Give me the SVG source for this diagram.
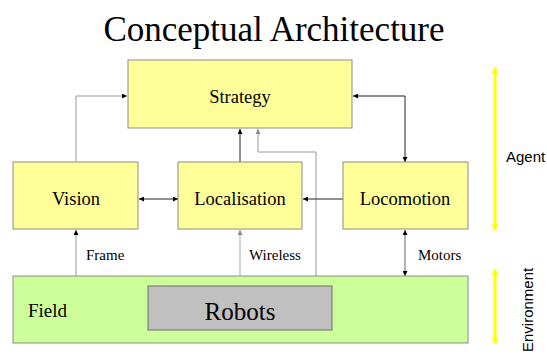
<svg xmlns="http://www.w3.org/2000/svg" width="547" height="354" viewBox="0 0 547 354">
  <style>
    .box { fill: #ffff99; stroke: #8c8c8c; stroke-width: 1; }
    .field { fill: #ccff99; stroke: #8c8c8c; stroke-width: 1; }
    .robots { fill: #c0c0c0; stroke: #6e6e6e; stroke-width: 1; }
    .serif { font-family: "Liberation Serif", "Times New Roman", serif; fill: #000; }
    .sans { font-family: "Liberation Sans", Arial, sans-serif; fill: #000; }
    .lbl { font-size: 18.5px; text-anchor: middle; }
    .small { font-size: 15px; }
    .conn { fill: none; stroke-width: 1; }
    .dark { stroke: #222; }
    .mid { stroke: #666; }
    .grey { stroke: #999; }
    .light { stroke: #aaa; }
    .band { stroke: #ffff00; stroke-width: 3; fill: none; }
  </style>
  <defs>
    <marker id="ah" viewBox="0 0 10 10" refX="10" refY="5" markerWidth="6" markerHeight="5" markerUnits="userSpaceOnUse" orient="auto-start-reverse">
      <path d="M0,0 L10,5 L0,10 z" fill="#000"/>
    </marker>
    <marker id="ahg" viewBox="0 0 10 10" refX="10" refY="5" markerWidth="6" markerHeight="5" markerUnits="userSpaceOnUse" orient="auto-start-reverse">
      <path d="M0,0 L10,5 L0,10 z" fill="#8a8a8a"/>
    </marker>
    <marker id="ahy" viewBox="0 0 10 10" refX="8" refY="5" markerWidth="7" markerHeight="9" markerUnits="userSpaceOnUse" orient="auto-start-reverse">
      <path d="M0,0 L10,5 L0,10 z" fill="#ffff00"/>
    </marker>
  </defs>

  <text class="serif" x="274" y="41" font-size="35" text-anchor="middle">Conceptual Architecture</text>

  <g id="connectors">
    <path class="conn grey" d="M76,162 V96 H127" marker-end="url(#ah)"/>
    <path class="conn dark" d="M240,162 V129" marker-end="url(#ah)"/>
    <path class="conn grey" d="M316,286 V152 H258 V129" marker-start="url(#ahg)" marker-end="url(#ahg)"/>
    <path class="conn dark" d="M353,96 H405 V162" marker-start="url(#ah)" marker-end="url(#ah)"/>
    <path class="conn dark" d="M139,199 H178" marker-start="url(#ah)" marker-end="url(#ah)"/>
    <path class="conn dark" d="M343,199 H303" marker-end="url(#ah)"/>
    <path class="conn grey" d="M76,276 V230" marker-end="url(#ah)"/>
    <path class="conn light" d="M240,230 V286" marker-start="url(#ahg)" marker-end="url(#ahg)"/>
    <path class="conn mid" d="M405,230 V276" marker-start="url(#ah)" marker-end="url(#ah)"/>
  </g>

  <g id="strategy">
    <rect class="box" x="128" y="60" width="224" height="68"/>
    <text class="serif lbl" x="240" y="103">Strategy</text>
  </g>
  <g id="vision">
    <rect class="box" x="13" y="162" width="125" height="67"/>
    <text class="serif lbl" x="76" y="205">Vision</text>
  </g>
  <g id="localisation">
    <rect class="box" x="178" y="162" width="124" height="67"/>
    <text class="serif lbl" x="240" y="205">Localisation</text>
  </g>
  <g id="locomotion">
    <rect class="box" x="343" y="162" width="125" height="67"/>
    <text class="serif lbl" x="405" y="205">Locomotion</text>
  </g>
  <g id="field">
    <rect class="field" x="13" y="276" width="455" height="67"/>
    <text class="serif" x="28" y="317" font-size="19">Field</text>
  </g>
  <g id="robots">
    <rect class="robots" x="148" y="286" width="184" height="44"/>
    <text class="serif" x="240" y="320" font-size="25" text-anchor="middle">Robots</text>
  </g>

  <g id="edge-labels">
    <text class="serif small" x="86" y="260">Frame</text>
    <text class="serif small" x="249" y="260">Wireless</text>
    <text class="serif small" x="418" y="260">Motors</text>
  </g>

  <g id="layers">
    <path class="band" d="M495,68 V230" marker-start="url(#ahy)" marker-end="url(#ahy)"/>
    <text class="sans" x="506" y="162" font-size="15">Agent</text>
    <path class="band" d="M495,270 V343" marker-start="url(#ahy)" marker-end="url(#ahy)"/>
    <text class="sans" x="0" y="0" font-size="15" transform="translate(533,352) rotate(-90)">Environment</text>
  </g>
</svg>
